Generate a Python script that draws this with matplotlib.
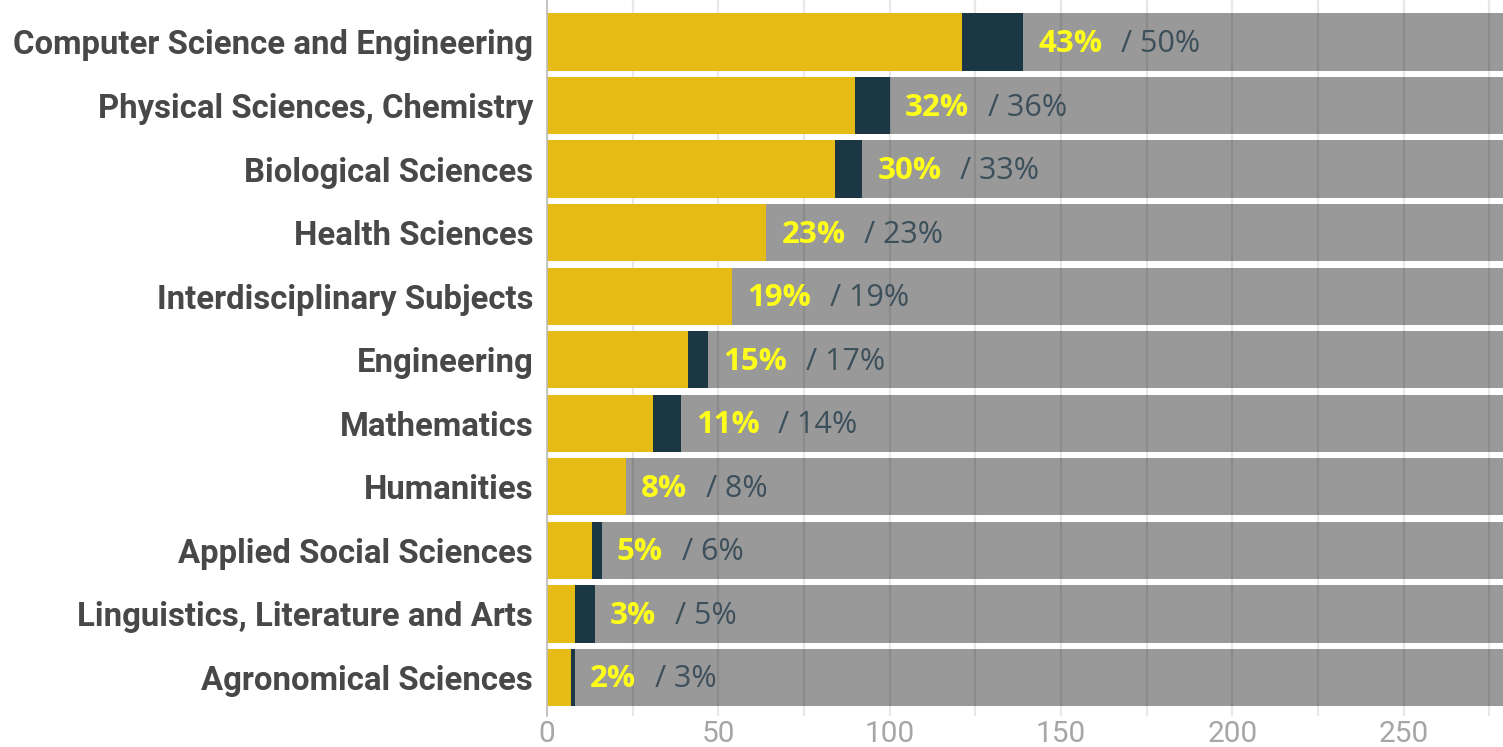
import numpy as np
import matplotlib
matplotlib.use("Agg")
from matplotlib import pyplot as plt

# counts per area: first part (yellow) and cumulative (yellow + dark)
areas = ["Computer Science and Engineering", "Physical Sciences, Chemistry",
         "Biological Sciences", "Health Sciences", "Interdisciplinary Subjects",
         "Engineering", "Mathematics", "Humanities", "Applied Social Sciences",
         "Linguistics, Literature and Arts", "Agronomical Sciences"]
first = [121, 90, 84, 64, 54, 41, 31, 23, 13, 8, 7]
cumul = [139, 100, 92, 64, 54, 47, 39, 23, 16, 14, 8]
share_first = [43, 32, 30, 23, 19, 15, 11, 8, 5, 3, 2]
share_cumul = [50, 36, 33, 23, 19, 17, 14, 8, 6, 5, 3]
total = 279

YELLOW = "#e6bb16"
DARK = "#1b3744"
GREY = "#999999"

fig = plt.figure(figsize=(15.03, 7.47), dpi=100)
ax = fig.add_axes([0.364, 0.042, 0.636, 0.958])

y = np.arange(len(areas))
h = 0.9
ax.barh(y, [total]*len(y), height=h, color=GREY, zorder=1)
ax.barh(y, cumul, height=h, color=DARK, zorder=3)
ax.barh(y, first, height=h, color=YELLOW, zorder=3)

# grid every 25, over the grey but under the coloured bars
for gx in np.arange(0, total, 25):
    ax.axvline(gx, color="black", alpha=0.09, lw=1.6, zorder=2)

for i in range(len(y)):
    t1 = ax.annotate(f"{share_first[i]}%", xy=(cumul[i], y[i]), xytext=(15, -2),
                     textcoords="offset pixels", ha="left", va="center",
                     fontsize=22.5, fontweight="bold", family="Open Sans",
                     color="#ffff1a", zorder=4)
    ax.annotate(f"/ {share_cumul[i]}%", xy=(1, 0.5), xycoords=t1, xytext=(19, 0),
                textcoords="offset pixels", ha="left", va="center",
                fontsize=22, family="Open Sans", color="#3d4f5a", zorder=4)

ax.set_xlim(0, total)
ax.set_ylim(10.6, -0.66)
ax.set_yticks(y)
ax.set_yticklabels(areas, fontsize=23.7, fontweight="bold", family="Roboto", color="#484848")
ax.set_xticks(np.arange(0, 251, 50))
ax.set_xticklabels([str(v) for v in range(0, 251, 50)], fontsize=21.5, family="Roboto",
                   color="#a6a6a6")
ax.tick_params(axis="y", length=0, pad=10)
ax.tick_params(axis="x", length=0, pad=3)

for s in ["top", "right", "bottom"]:
    ax.spines[s].set_visible(False)
ax.spines["left"].set_color("#bbbbbb")
ax.spines["left"].set_linewidth(1.2)
ax.spines["left"].set_zorder(5)

plt.savefig("out.png", dpi=100)
